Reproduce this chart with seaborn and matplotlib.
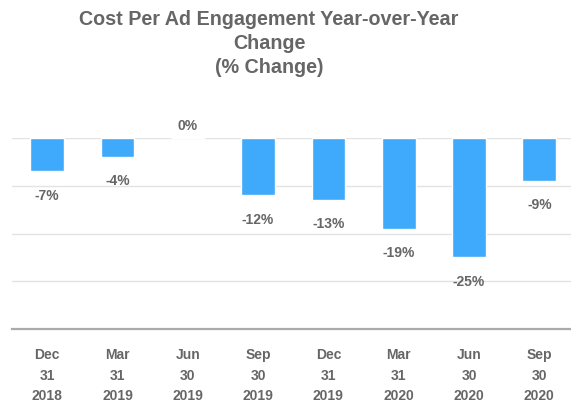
import matplotlib
matplotlib.use("Agg")
import matplotlib.pyplot as plt
import seaborn as sns
import pandas as pd

categories = ["Dec\n31\n2018", "Mar\n31\n2019", "Jun\n30\n2019", "Sep\n30\n2019",
              "Dec\n31\n2019", "Mar\n31\n2020", "Jun\n30\n2020", "Sep\n30\n2020"]
values = [-7, -4, 0, -12, -13, -19, -25, -9]
title = "Cost Per Ad Engagement Year-over-Year\nChange\n(% Change)"

sns.set_theme(style="white")
plt.rcParams['font.family'] = ['Liberation Sans', 'DejaVu Sans']

df = pd.DataFrame({"cat": categories, "val": values})

fig = plt.figure(figsize=(5.71, 4.09), dpi=100)
ax = fig.add_axes([12/571, (409-329)/409, (571-12)/571, (329-138)/409])

sns.barplot(data=df, x="cat", y="val", color="#3FA9FC", saturation=1,
            width=0.48, ax=ax)

ax.set_ylim(-40, 0)
ax.set_xlim(-0.5, 7.45)
for y in [0, -10, -20, -30]:
    ax.axhline(y, color="#e3e3e3", lw=1, zorder=0)
for s in ["top", "left", "right"]:
    ax.spines[s].set_visible(False)
ax.spines["bottom"].set_color("#aaaaaa")
ax.spines["bottom"].set_linewidth(1.6)

ax.set_yticks([])
ax.set_xlabel("")
ax.set_ylabel("")
ax.tick_params(axis="x", length=0, pad=14, labelsize=10, labelcolor="#666666")
for lab in ax.get_xticklabels():
    lab.set_fontweight("bold")
    lab.set_linespacing(1.58)

for i, v in enumerate(values):
    off = -17.5 if v < 0 else 9
    ax.annotate(f"{v}%", (i, v), xytext=(0, off), textcoords="offset points",
                ha="center", va="center", fontsize=10, fontweight="bold",
                color="#666666", annotation_clip=False)

fig.text(269/571, 1 - 43.5/409, title, ha="center", va="center", fontsize=14.2,
         fontweight="bold", color="#666666", linespacing=1.36)

fig.savefig("out.png", dpi=100)
